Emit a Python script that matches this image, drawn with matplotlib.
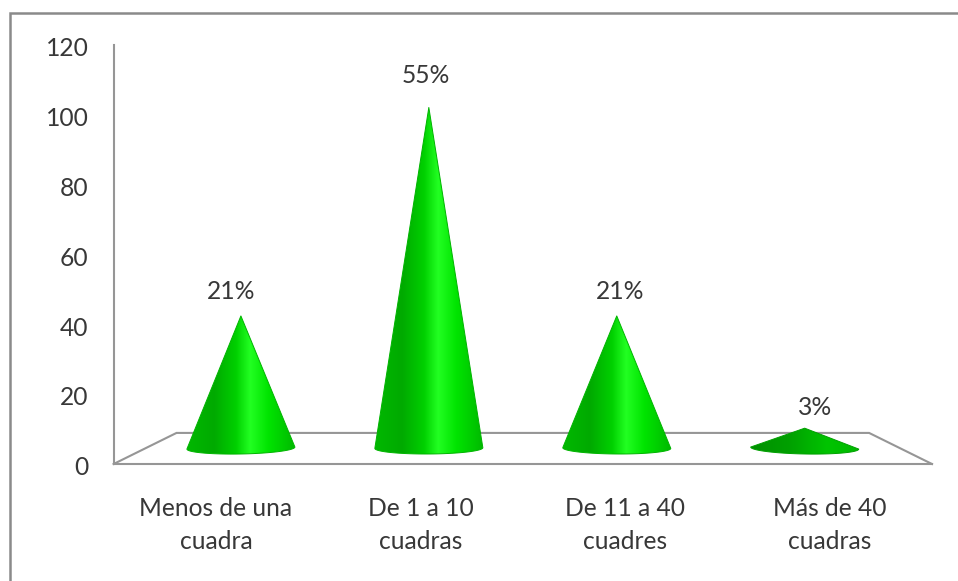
import numpy as np
import matplotlib
matplotlib.use('Agg')
import matplotlib.pyplot as plt
from matplotlib.colors import LinearSegmentedColormap
from matplotlib.lines import Line2D
from matplotlib.patches import Polygon
from matplotlib.transforms import ScaledTranslation

# Datos del grafico
categorias = ['Menos de una\ncuadra', 'De 1 a 10\ncuadras', 'De 11 a 40\ncuadres', 'Más de 40\ncuadras']
valores = [40, 105, 40, 5]
ticks_y = [0, 20, 40, 60, 80, 100, 120]

ANCHO = 958
ALTO = 581
GRIS = '#969696'
TEXTO = '#383838'

plt.rcParams['font.family'] = ['Lato', 'DejaVu Sans']

# Degradado horizontal de los conos
verde = LinearSegmentedColormap.from_list('verde', [
    (0.00, '#00b800'), (0.25, '#00aa00'), (0.45, '#00d000'),
    (0.58, '#22ff22'), (0.75, '#00e400'), (1.00, '#00b800')])
verde_oscuro = LinearSegmentedColormap.from_list('verde_oscuro', [
    (0.00, '#009000'), (0.35, '#00a000'), (0.70, '#00c400'), (1.00, '#00b800')])


# Proyeccion en perspectiva: profundidad 0 es el frente del piso y 1 el fondo.
def proyectar(categoria, valor, profundidad):
    escala = 1 - 0.1537 * profundidad
    x = 1.5 + (categoria - 1.5) * escala
    y = 8.9 * profundidad + valor * escala
    return x, y


def dibujar_cono(ax, categoria, valor):
    profundidad = 0.53
    x_base, y_base = proyectar(categoria, 0, profundidad)
    x_punta, y_punta = proyectar(categoria, valor, profundidad)
    y_base -= 0.15
    y_punta += 0.95
    medio_ancho = 0.264
    medio_alto = 1.7
    inclinacion = -(categoria - 1.5) / 1.5 * 0.29

    # Contorno: la punta y el borde inferior de la base
    t = np.linspace(np.pi, 2 * np.pi, 60)
    xs = x_base + medio_ancho * np.cos(t)
    ys = y_base + medio_alto * np.sin(t) + inclinacion * np.cos(t)
    contorno = np.vstack([[x_punta, y_punta], np.column_stack([xs, ys])])
    oscuro = valor <= 10

    # El borde suaviza el recorte de la imagen
    forma = Polygon(contorno, closed=True, transform=ax.transData, facecolor='none',
                    edgecolor='#00a000' if oscuro else '#00b400', lw=0.7,
                    joinstyle='round', zorder=3.5)
    ax.add_patch(forma)

    mapa = verde_oscuro if oscuro else verde
    gradiente = np.linspace(0, 1, 256).reshape(1, -1)
    imagen = ax.imshow(gradiente, cmap=mapa, aspect='auto', interpolation='bilinear',
                       extent=[x_base - medio_ancho, x_base + medio_ancho,
                               ys.min() - 0.5, y_punta + 0.5], zorder=3)
    imagen.set_clip_path(forma)


fig = plt.figure(figsize=(ANCHO / 100, ALTO / 100), dpi=100, facecolor='white')
ax = fig.add_axes([113.6 / ANCHO, 1 - 464 / ALTO, 818.4 / ANCHO, 419 / ALTO])
ax.patch.set_alpha(0)

# Piso del grafico
esquinas = [proyectar(-0.5, 0, 0), proyectar(-0.5, 0, 1), proyectar(3.5, 0, 1), proyectar(3.5, 0, 0)]
ax.plot([p[0] for p in esquinas], [p[1] for p in esquinas], color=GRIS, lw=1.5,
        solid_joinstyle='miter', zorder=1, clip_on=False)

total = sum(valores)
for i, valor in enumerate(valores):
    dibujar_cono(ax, i, valor)
    # Etiqueta con el porcentaje de cada categoria
    x_etiqueta, y_etiqueta = proyectar(i, valor, 0.32)
    ax.annotate(f'{round(valor / total * 100)}%', (x_etiqueta, y_etiqueta),
                xytext=(0, 21.6), textcoords='offset points', ha='center', va='center',
                fontsize=17.7, color=TEXTO, zorder=4)

ax.set_xlim(-0.5, 3.5)
ax.set_ylim(0, 120)
ax.set_xticks(range(len(categorias)))
ax.set_xticklabels(categorias, linespacing=1.55)
ax.set_yticks(ticks_y)
ax.tick_params(axis='both', length=0, labelsize=17.7, labelcolor=TEXTO)
ax.tick_params(axis='x', pad=23.5)
ax.tick_params(axis='y', pad=18)

# Los numeros del eje quedan un poco por debajo de su nivel
bajar = ScaledTranslation(0, -1.2 / 72, fig.dpi_scale_trans)
for etiqueta in ax.get_yticklabels():
    etiqueta.set_transform(etiqueta.get_transform() + bajar)

ax.spines['top'].set_visible(False)
ax.spines['right'].set_visible(False)
ax.spines['left'].set_color(GRIS)
ax.spines['bottom'].set_color(GRIS)
ax.spines['left'].set_linewidth(1.5)
ax.spines['bottom'].set_linewidth(1.5)

# Marco exterior: solo arriba y a la izquierda
fig.add_artist(Line2D([9.5 / ANCHO, 9.5 / ANCHO, 1], [0, 1 - 12.5 / ALTO, 1 - 12.5 / ALTO],
                      color='#8a8a8a', lw=1.8, solid_joinstyle='miter'))

fig.savefig('out.png', dpi=100)
